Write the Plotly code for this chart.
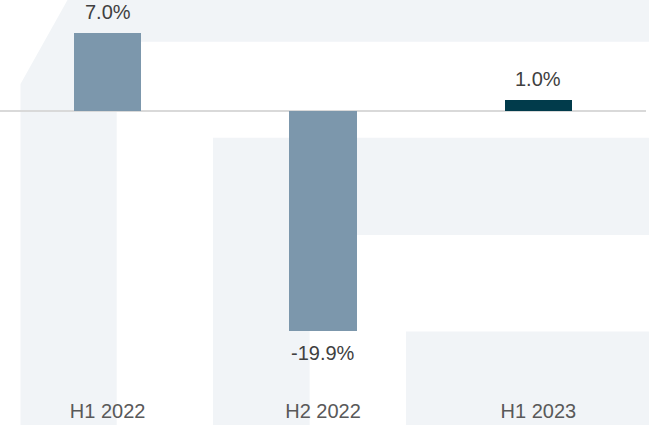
import plotly.graph_objects as go

categories = ["H1 2022", "H2 2022", "H1 2023"]
values = [7.0, -19.9, 1.0]
bar_colors = ["#7C97AC", "#7C97AC", "#013B4B"]

W_FIG, H_FIG = 649, 425
M_L, M_R, M_T, M_B = 0, 3, 0, 30
PW = W_FIG - M_L - M_R
PH = H_FIG - M_T - M_B

def px(x):
    return (x - M_L) / PW

def py(y):
    return 1 - (y - M_T) / PH

fig = go.Figure()
fig.add_trace(go.Bar(
    x=categories, y=values, width=0.313,
    marker=dict(color=bar_colors, line=dict(width=0)),
    hoverinfo="skip",
))

# value labels
for c, v in zip(categories, values):
    fig.add_annotation(
        x=c, y=v, text=f"{v:.1f}%", showarrow=False,
        yanchor="middle", yshift=21 if v >= 0 else -22,
        font=dict(family="Liberation Sans, Arial", size=20, color="#404040"),
    )

# background watermark shapes
fill = "#F1F4F7"
def path(points):
    s = "M " + " L ".join(f"{px(a):.5f},{py(b):.5f}" for a, b in points) + " Z"
    return s

shape1 = [(20.5, 425), (20.5, 84), (67.5, 0), (649, 0), (649, 41.7),
          (116.7, 41.7), (116.7, 425)]
shape2 = [(213, 425), (213, 137.7), (649, 137.7), (649, 235),
          (309.6, 235), (309.6, 425)]
shape3 = [(406, 425), (406, 331.5), (649, 331.5), (649, 425)]
for s in (shape1, shape2, shape3):
    fig.add_shape(type="path", path=path(s), xref="paper", yref="paper",
                  fillcolor=fill, line=dict(width=0), layer="below")

fig.update_layout(
    width=W_FIG, height=H_FIG,
    margin=dict(l=M_L, r=M_R, t=M_T, b=M_B, pad=0),
    paper_bgcolor="white", plot_bgcolor="rgba(0,0,0,0)",
    showlegend=False, bargap=0,
    font=dict(family="Liberation Sans, Arial", size=20, color="#595959"),
)
fig.update_xaxes(range=[-0.5, 2.5], showgrid=False, showline=False,
                 ticks="", ticklabelstandoff=2,
                 tickfont=dict(size=20, color="#595959"))
fig.update_yaxes(range=[-25.73, 10.02], showgrid=False, showticklabels=False,
                 zeroline=True, zerolinecolor="#D9D9D9", zerolinewidth=2)

fig.write_html(
    "out.html",
    config={"displayModeBar": False, "staticPlot": True},
    post_script="document.body.style.margin='0';document.body.style.overflow='hidden';",
)
